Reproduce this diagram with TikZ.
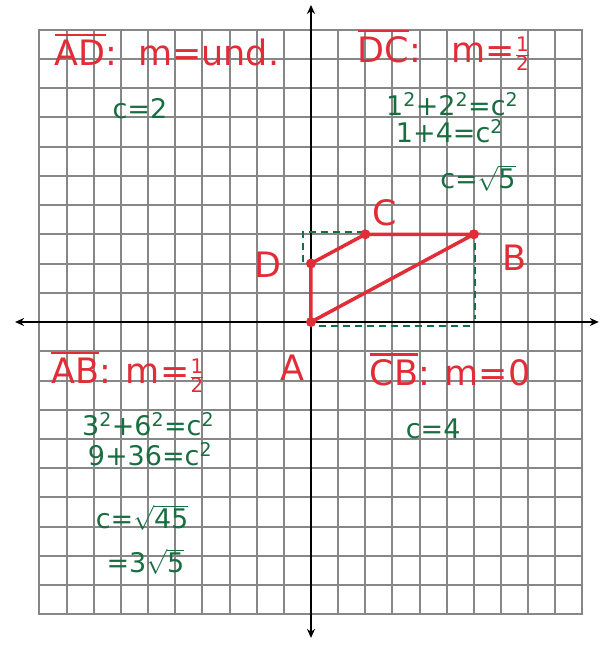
\documentclass[tikz,border=0pt]{standalone}
\usepackage{fontspec}
\setmainfont{DejaVu Sans}
\usetikzlibrary{arrows.meta}
\definecolor{redink}{RGB}{225,45,55}
\definecolor{greenink}{RGB}{25,110,65}
\definecolor{gridgray}{RGB}{135,135,135}
\newcommand{\segname}[1]{\setbox0\hbox{#1}\rlap{\raisebox{\dimexpr\ht0+4pt\relax}{\rule{\wd0}{2.5pt}}}\box0}
\newcommand{\half}{\raisebox{0.1ex}{\fontsize{20}{20}\selectfont$\frac{\mbox{1}}{\mbox{2}}$}}
\newcommand{\sq}{\textsuperscript{2}}
\tikzset{
  gridlines/.style={draw=gridgray, line width=2pt},
  axisline/.style={draw=black, line width=2.4pt, {Stealth[length=9pt,width=8pt]}-{Stealth[length=9pt,width=8pt]}},
  redlabel/.style={text=redink, font=\fontsize{35}{40}\selectfont, inner sep=0pt},
  greenlabel/.style={text=greenink, font=\fontsize{27}{30}\selectfont, inner sep=0pt, text height=0.75em, text depth=0pt},
  side/.style={draw=redink, line width=3.5pt, line cap=round},
  vertexdot/.style={circle, fill=redink, minimum size=10pt, inner sep=0pt},
  guide/.style={draw=greenink, line width=2.2pt, dashed, dash pattern=on 7pt off 5pt},
}
\begin{document}
\begin{tikzpicture}[x=27.15pt, y=29.25pt]
\useasboundingbox (-11.455,-11.043) rectangle (10.644,11.009);
\fill[white] (-11.455,-11.043) rectangle (10.644,11.009);
% grid
\draw[gridlines, step=1] (-10,-10) grid (10,10);
\draw[gridlines] (-10,-10) rectangle (10,10);
% axes
\coordinate (xl) at (-10.9,0);
\coordinate (xr) at (10.6,0);
\coordinate (yb) at (0,-10.8);
\coordinate (yt) at (0,10.84);
\draw[axisline] (xl) -- (xr);
\draw[axisline] (yb) -- (yt);
% green guides
\coordinate (g1) at (-0.28,2.05);
\coordinate (g2) at (-0.28,3.08);
\coordinate (g3) at (1.9,3.08);
\coordinate (g4) at (6.05,2.7);
\coordinate (g5) at (6.05,0.1);
\coordinate (g6) at (0.3,-0.14);
\coordinate (g7) at (6,-0.14);
\draw[guide] (g1) -- (g2) -- (g3);
\draw[guide] (g4) -- (g5);
\draw[guide] (g6) -- (g7);
% quadrilateral
\node[vertexdot] (A) at (0,0) {};
\node[vertexdot] (D) at (0,2) {};
\node[vertexdot] (C) at (2,3) {};
\node[vertexdot] (B) at (6,3) {};
\draw[side] (A.center) -- (D.center) -- (C.center) -- (B.center) -- (A.center);
% vertex labels
\node[redlabel] (lD) at (-1.58,1.95) {D};
\node[redlabel] (lC) at (2.73,3.73) {C};
\node[redlabel] (lB) at (7.5,2.19) {B};
\node[redlabel] (lA) at (-0.7,-1.57) {A};
% quadrant II
\node[redlabel] (tAD) at (-5.3,9.3) {\segname{AD}:\, m=und.};
\node[greenlabel] (tAD1) at (-6.3,7.08) {c=2};
% quadrant I
\node[redlabel] (tDC) at (4.9,9.3) {\segname{DC}:\;\, m=\half};
\node[greenlabel] (tDC1) at (5.2,7.2) {1\sq+2\sq=c\sq};
\node[greenlabel] (tDC2) at (5.1,6.27) {1+4=c\sq};
\node[greenlabel] (tDC3) at (6.15,4.68) {c=$\sqrt{\mbox{5}}$};
% quadrant III
\node[redlabel] (tAB) at (-6.74,-1.71) {\segname{AB}: m=\half};
\node[greenlabel] (tAB1) at (-6.0,-3.76) {3\sq+6\sq=c\sq};
\node[greenlabel] (tAB2) at (-5.93,-4.79) {9+36=c\sq};
\node[greenlabel] (tAB3) at (-6.22,-6.94) {c=$\sqrt{\mbox{45}}$};
\node[greenlabel] (tAB4) at (-6.1,-8.44) {=3$\sqrt{\mbox{5}}$};
% quadrant IV
\node[redlabel] (tCB) at (5.12,-1.64) {\segname{CB}: m=0};
\node[greenlabel] (tCB1) at (4.5,-3.86) {c=4};
\end{tikzpicture}
\end{document}
